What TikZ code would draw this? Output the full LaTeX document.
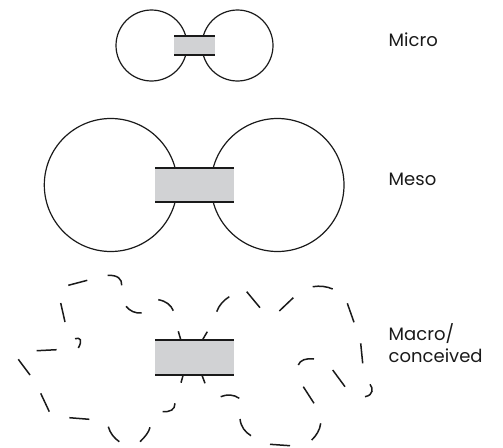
\documentclass[tikz,border=0pt]{standalone}
\usepackage{fontspec}
\setmainfont{Poppins}
\definecolor{barfill}{HTML}{D1D2D4}
\definecolor{inkcol}{HTML}{1A1A1A}
\tikzset{
  ring/.style={draw=inkcol, line width=1.2pt},
  barbody/.style={fill=barfill, draw=none},
  baredge/.style={draw=inkcol, line width=2pt},
  dashpiece/.style={draw=inkcol, line width=1.5pt},
  scalelabel/.style={font=\fontsize{18}{22.5}\selectfont, text=inkcol, inner sep=0pt, align=left}
}
\begin{document}
\begin{tikzpicture}[x=1pt,y=-1pt]
\useasboundingbox (0,0) rectangle (503,447);
% Micro
\draw[ring] (151.5,45.5) circle (35.5);
\draw[ring] (237.5,45.5) circle (35.5);
\fill[barbody] (174,36) rectangle (215,55);
\draw[baredge] (174,36) -- (215,36) (174,55) -- (215,55);
% Meso
\draw[ring] (110.8,185) circle (66.5);
\draw[ring] (277.5,185) circle (66.5);
\fill[barbody] (155,167.7) rectangle (234,202);
\draw[baredge] (155,167.7) -- (234,167.7) (155,202) -- (234,202);
% Macro
\fill[barbody] (155,339.5) rectangle (234,374.5);
\draw[baredge] (155,339.5) -- (234,339.5) (155,374.5) -- (234,374.5);
% left dashed outline
\draw[dashpiece] (68.3,285.3) -- (87.3,280.3);
\draw[dashpiece] (107.7,275.3) .. controls (118,275) and (122,279) .. (121.7,285.3);
\draw[dashpiece] (60.7,303) -- (65,322);
\draw[dashpiece] (126,306.3) .. controls (130,311) and (135,313.5) .. (141.7,313);
\draw[dashpiece] (158.3,299.7) .. controls (166,301) and (171,305) .. (173.3,310.7);
\draw[dashpiece] (75,338.7) .. controls (80,337) and (83,340) .. (78.3,348);
\draw[dashpiece] (36.7,350.7) -- (56.7,349.7);
\draw[dashpiece] (178.3,331.3) -- (180.7,339.5);
\draw[dashpiece] (18.3,359.3) -- (30,375);
\draw[dashpiece] (40.7,393.3) -- (49.3,411.7);
\draw[dashpiece] (69.3,417.7) -- (89.3,419.3);
\draw[dashpiece] (108.3,426.7) .. controls (110,433) and (114,438) .. (119.3,441.7);
\draw[dashpiece] (140,441.7) .. controls (145,437) and (149,432) .. (150,427.3);
\draw[dashpiece] (162.7,411.7) .. controls (170,412) and (175,410) .. (175,403.3);
\draw[dashpiece] (183.3,374.5) -- (181,382.7);
\draw[dashpiece] (201.7,374.5) -- (205,383.3);
% right dashed outline
\draw[dashpiece] (207.3,331.7) -- (202.7,339.5);
\draw[dashpiece] (216.7,311.7) .. controls (219,305) and (224,300) .. (229.3,296.7);
\draw[dashpiece] (246.7,291.7) -- (260,307.7);
\draw[dashpiece] (279.3,311) -- (293.3,297.7);
\draw[dashpiece] (312.7,286.7) .. controls (320,285.5) and (327,286.5) .. (332.7,289);
\draw[dashpiece] (347.3,303.3) -- (354,322.3);
\draw[dashpiece] (360.7,343.3) -- (362.7,363.3);
\draw[dashpiece] (298.3,365) .. controls (300,360) and (306,358) .. (314,359);
\draw[dashpiece] (220.7,396.7) .. controls (227,394) and (234,394.5) .. (239.3,398.3);
\draw[dashpiece] (240,419) .. controls (241,427) and (245,432) .. (251,435.7);
\draw[dashpiece] (270,444.3) -- (290,445.7);
\draw[dashpiece] (311.7,440) .. controls (316,436) and (320,430) .. (320.7,423.3);
\draw[dashpiece] (303.3,386.7) -- (314,403.3);
\draw[dashpiece] (332.7,370) -- (345,386.7);
\draw[dashpiece] (370,384.3) .. controls (373,388) and (374,395) .. (365,396.7);
% labels
\node[scalelabel, anchor=base west] (micro) at (388.5,46) {Micro};
\node[scalelabel, anchor=base west] (meso) at (388.5,185.7) {Meso};
\node[scalelabel, anchor=base west] (macro) at (388.5,362.7) {Macro/\\conceived};
\end{tikzpicture}
\end{document}
